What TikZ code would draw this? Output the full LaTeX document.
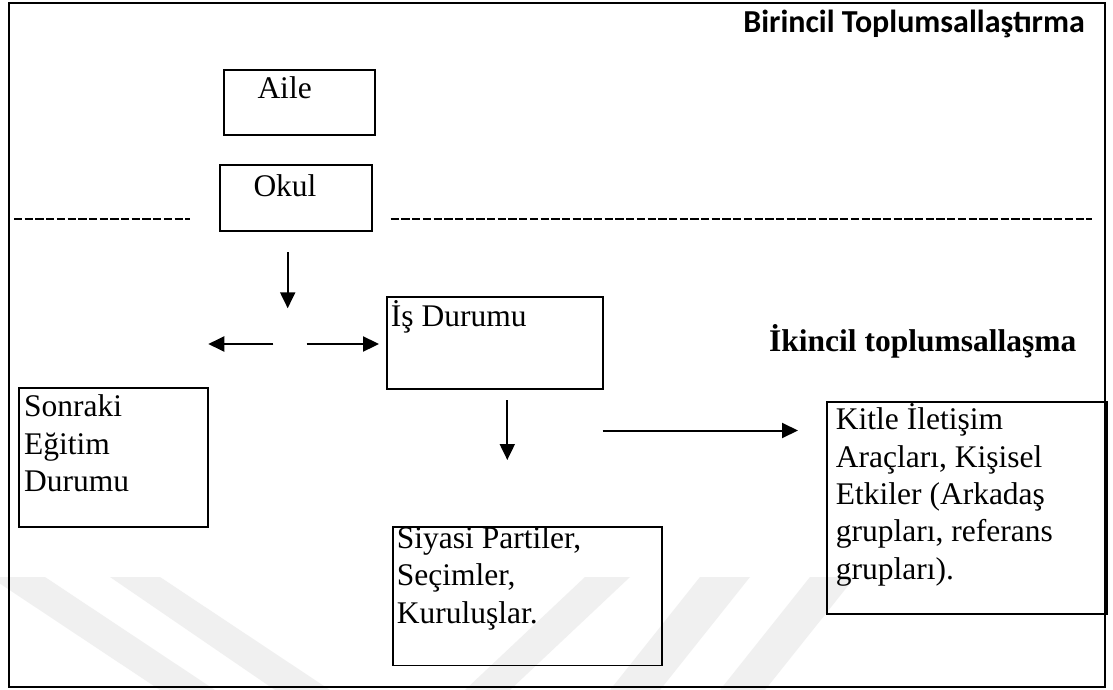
\documentclass[tikz,border=0pt]{standalone}
\usepackage{fontspec}
\setmainfont{Liberation Serif}
\newfontfamily\calibrifont{Carlito}
\usetikzlibrary{arrows.meta}
\begin{document}
\begin{tikzpicture}[x=1pt,y=-1pt,
  frame/.style={draw, line width=2pt},
  boxnode/.style={draw, line width=1.8pt, anchor=north west, inner sep=0pt, fill=none},
  txt/.style={inner sep=0pt, anchor=base west, align=left, font=\fontsize{31.5}{37.4}\selectfont},
  arr/.style={line width=2pt, -{Triangle[length=16pt,width=15pt]}},
  dashline/.style={line width=2pt, dash pattern=on 8.3pt off 2.4pt},
  wm/.style={fill=black!6, draw=none}]
\useasboundingbox (0,0) rectangle (1113,690);
\fill[white] (0,0) rectangle (1113,690);
% watermark
\fill[wm] (-10,577) -- (45,577) -- (215,690) -- (160,690) -- cycle;
\fill[wm] (110,577) -- (160,577) -- (330,690) -- (275,690) -- cycle;
\fill[wm] (585,577) -- (630,577) -- (510,690) -- (465,690) -- cycle;
\fill[wm] (700,577) -- (750,577) -- (660,690) -- (610,690) -- cycle;
\fill[wm] (810,577) -- (855,577) -- (765,690) -- (720,690) -- cycle;
% frame
\draw[frame] (9,3) rectangle (1105,687);
% title texts
\node[inner sep=0pt, anchor=base east, font=\calibrifont\bfseries\fontsize{32}{38}\selectfont] (birincil) at (1085,32.3) {Birincil Toplumsallaştırma};
\node[inner sep=0pt, anchor=base west, font=\bfseries\fontsize{31.5}{37.4}\selectfont] (ikincil) at (769,351.7) {İkincil toplumsallaşma};
% boxes
\node[boxnode, minimum width=151pt, minimum height=65pt] (aile) at (223.3,69) {};
\node[boxnode, minimum width=151.4pt, minimum height=65.7pt] (okul) at (219.3,164.3) {};
\node[boxnode, minimum width=216pt, minimum height=92pt] (is) at (385.7,295.7) {};
\node[boxnode, minimum width=189pt, minimum height=138.7pt] (sonraki) at (18.3,387.3) {};
\node[boxnode, minimum width=269pt, minimum height=138.5pt] (siyasi) at (391.7,526) {};
\node[boxnode, minimum width=280pt, minimum height=212pt] (kitle) at (826,400.7) {};
% box texts (anchor at the baseline of the last line)
\node[txt] (ailetext) at (257.3,99) {Aile};
\node[txt] (okultext) at (253.3,196.7) {Okul};
\node[txt] (istext) at (390.7,326) {İş Durumu};
\node[txt] (sonrakitext) at (24,491.7) {Sonraki\\Eğitim\\Durumu};
\node[txt] (siyasitext) at (396.7,623) {Siyasi Partiler,\\Seçimler,\\Kuruluşlar.};
\node[txt] (kitletext) at (835.7,579.3) {Kitle İletişim\\Araçları, Kişisel\\Etkiler (Arkadaş\\grupları, referans\\grupları).};
% dashed separator
\coordinate (dl1) at (14,219);
\coordinate (dl2) at (190,219);
\coordinate (dr1) at (390.7,219);
\coordinate (dr2) at (1091.7,219);
\draw[dashline] (dl1) -- (dl2);
\draw[dashline] (dr1) -- (dr2);
% arrows
\coordinate (d1s) at (287.7,252);
\coordinate (d1e) at (287.7,308.3);
\coordinate (ls) at (273.3,344);
\coordinate (le) at (208.3,344);
\coordinate (rs) at (306.7,344);
\coordinate (re) at (379,344);
\coordinate (d2s) at (507.3,400);
\coordinate (d2e) at (507.3,460);
\coordinate (ks) at (602.7,430.5);
\coordinate (ke) at (798,430.5);
\draw[arr] (d1s) -- (d1e);
\draw[arr, line width=2.3pt] (ls) -- (le);
\draw[arr, line width=2.3pt] (rs) -- (re);
\draw[arr] (d2s) -- (d2e);
\draw[arr] (ks) -- (ke);
\end{tikzpicture}
\end{document}
